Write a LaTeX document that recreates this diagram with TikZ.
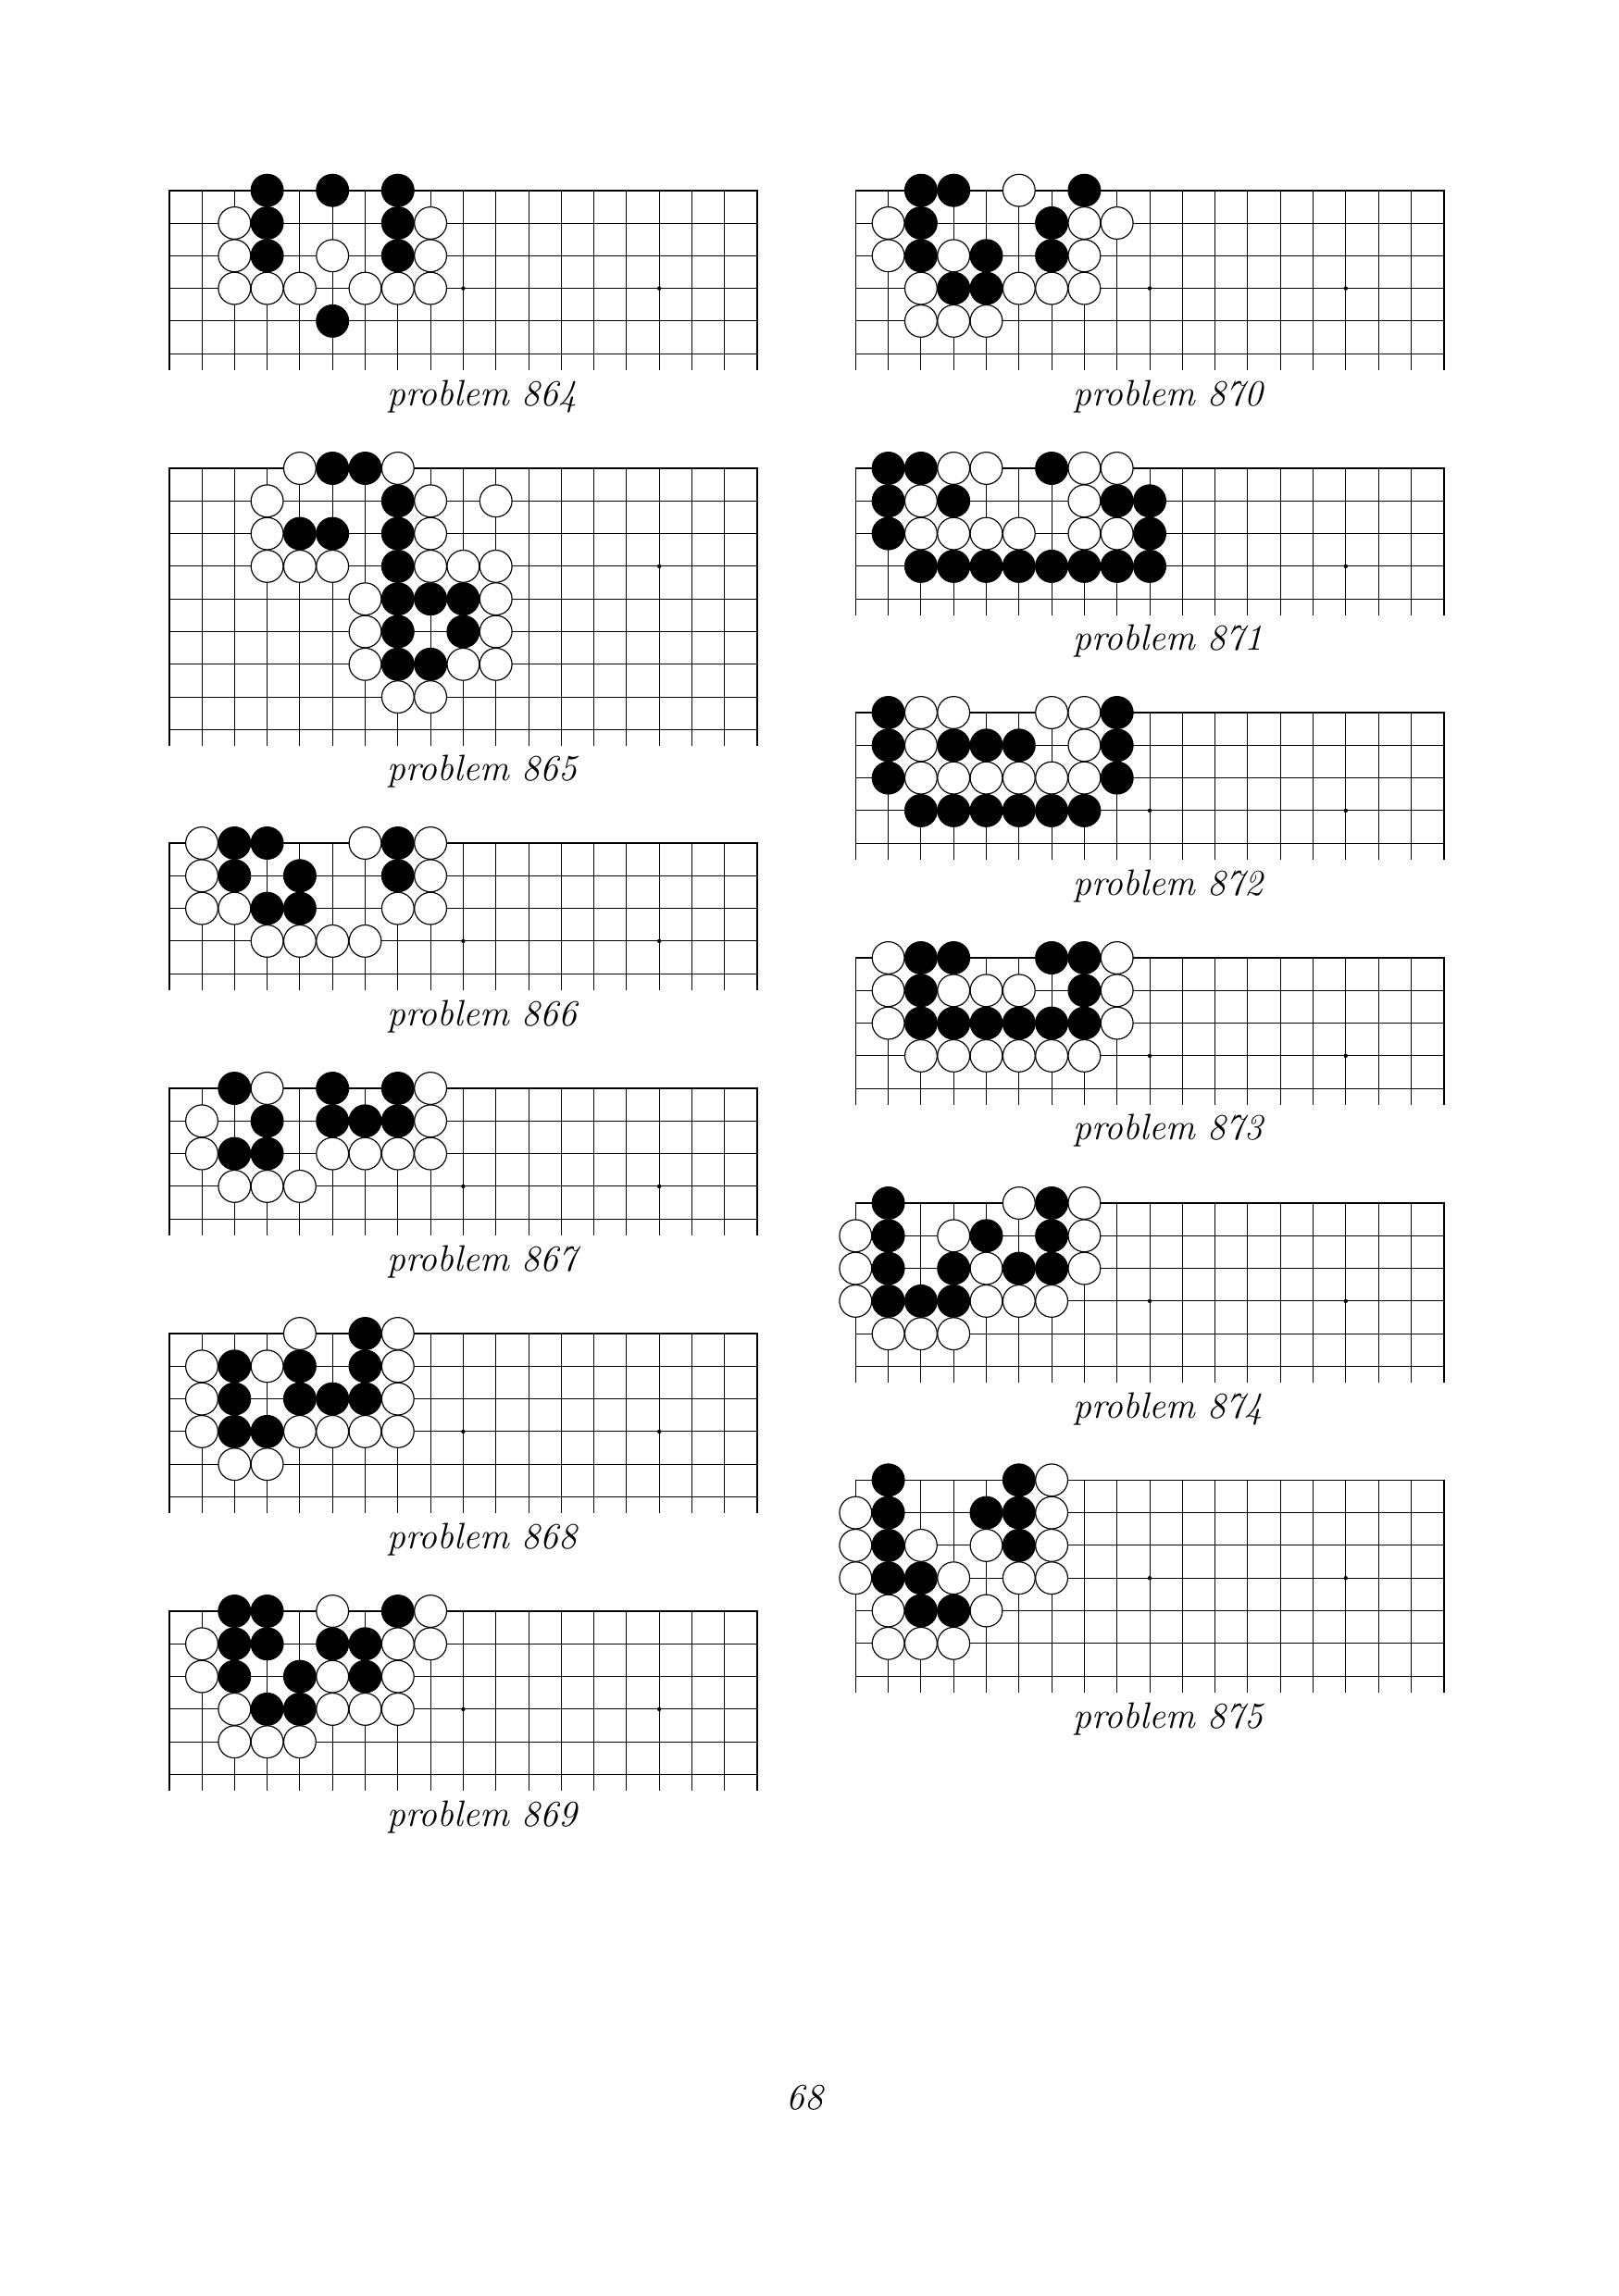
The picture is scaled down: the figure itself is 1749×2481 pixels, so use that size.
\documentclass[tikz,border=0pt]{standalone}
\usepackage{fontspec}
\usepackage{tikz}

\newcommand{\gosp}{35.3}
\newcommand{\goboard}[5]{%
  \begin{scope}[shift={(#1,#2)}]
    \pgfmathtruncatemacro{\rlast}{#3-1}
    \pgfmathsetmacro{\ylow}{(#3-0.5)*\gosp}
    \foreach \r in {1,...,\rlast} \draw[gridline] (0,\r*\gosp) -- (18*\gosp,\r*\gosp);
    \foreach \c in {1,...,17} \draw[gridline] (\c*\gosp,0) -- (\c*\gosp,\ylow);
    \draw[edgeline] (0,\ylow) -- (0,0) -- (18*\gosp,0) -- (18*\gosp,\ylow);
    \foreach \c in {3,9,15} \fill (\c*\gosp,3*\gosp) circle (0.75pt);
    \foreach \c/\r in {#4} \filldraw[bstone] (\c*\gosp,\r*\gosp) circle (5.92pt);
    \foreach \c/\r in {#5} \filldraw[wstone] (\c*\gosp,\r*\gosp) circle (5.92pt);
  \end{scope}}

\begin{document}
\begin{tikzpicture}[
  x=0.3404pt, y=-0.3404pt,
  gridline/.style={line width=0.3pt},
  edgeline/.style={line width=0.55pt},
  bstone/.style={fill=black, draw=black, line width=0.4pt},
  wstone/.style={fill=white, draw=black, line width=0.4pt},
  caption/.style={font=\fontsize{13.5}{16}\selectfont\itshape, inner sep=0pt}
]
\useasboundingbox (0,0) rectangle (1749,2481);

\goboard{182.7}{205.7}{6}
  {3/0,5/0,7/0, 3/1,7/1, 3/2,7/2, 5/4}
  {2/1,8/1, 2/2,5/2,8/2, 2/3,3/3,4/3,6/3,7/3,8/3}
\goboard{182.7}{506}{9}
  {5/0,6/0, 7/1, 4/2,5/2,7/2, 7/3, 7/4,8/4,9/4, 7/5,9/5, 7/6,8/6}
  {4/0,7/0, 3/1,8/1,10/1, 3/2,8/2, 3/3,4/3,5/3,8/3,9/3,10/3, 6/4,10/4, 6/5,10/5, 6/6,9/6,10/6, 7/7,8/7}
\goboard{182.7}{911}{5}
  {2/0,3/0,7/0, 2/1,4/1,7/1, 3/2,4/2}
  {1/0,6/0,8/0, 1/1,8/1, 1/2,2/2,7/2,8/2, 3/3,4/3,5/3,6/3}
\goboard{182.7}{1176}{5}
  {2/0,5/0,7/0, 3/1,5/1,6/1,7/1, 2/2,3/2}
  {3/0,8/0, 1/1,8/1, 1/2,5/2,6/2,7/2,8/2, 2/3,3/3,4/3}
\goboard{182.7}{1441}{6}
  {6/0, 2/1,4/1,6/1, 2/2,4/2,5/2,6/2, 2/3,3/3}
  {4/0,7/0, 1/1,3/1,7/1, 1/2,7/2, 1/3,4/3,5/3,6/3,7/3, 2/4,3/4}
\goboard{182.7}{1741}{6}
  {2/0,3/0,7/0, 2/1,3/1,5/1,6/1, 2/2,4/2,6/2, 3/3,4/3}
  {5/0,8/0, 1/1,7/1,8/1, 1/2,5/2,7/2, 2/3,5/3,6/3,7/3, 2/4,3/4,4/4}

\goboard{924.3}{205.7}{6}
  {2/0,3/0,7/0, 2/1,6/1, 2/2,4/2,6/2, 3/3,4/3}
  {5/0, 1/1,7/1,8/1, 1/2,3/2,7/2, 2/3,5/3,6/3,7/3, 2/4,3/4,4/4}
\goboard{924.3}{506}{5}
  {1/0,2/0,6/0, 1/1,3/1,8/1,9/1, 1/2,9/2, 2/3,3/3,4/3,5/3,6/3,7/3,8/3,9/3}
  {3/0,4/0,7/0,8/0, 2/1,7/1, 2/2,3/2,4/2,5/2,7/2,8/2}
\goboard{924.3}{770}{5}
  {1/0,8/0, 1/1,3/1,4/1,5/1,8/1, 1/2,8/2, 2/3,3/3,4/3,5/3,6/3,7/3}
  {2/0,3/0,6/0,7/0, 2/1,7/1, 2/2,3/2,4/2,5/2,6/2,7/2}
\goboard{924.3}{1035}{5}
  {2/0,3/0,6/0,7/0, 2/1,7/1, 2/2,3/2,4/2,5/2,6/2,7/2}
  {1/0,8/0, 1/1,3/1,4/1,5/1,8/1, 1/2,8/2, 2/3,3/3,4/3,5/3,6/3,7/3}
\goboard{924.3}{1300}{6}
  {1/0,6/0, 1/1,4/1,6/1, 1/2,3/2,5/2,6/2, 1/3,2/3,3/3}
  {5/0,7/0, 0/1,3/1,7/1, 0/2,4/2,7/2, 0/3,4/3,5/3,6/3, 1/4,2/4,3/4}
\goboard{924.3}{1599.3}{7}
  {1/0,5/0, 1/1,4/1,5/1, 1/2,5/2, 1/3,2/3, 2/4,3/4}
  {6/0, 0/1,6/1, 0/2,2/2,4/2,6/2, 0/3,3/3,5/3,6/3, 1/4,4/4, 1/5,2/5,3/5}

\node[caption] (p864) at (521,429) {problem 864};
\node[caption] (p865) at (521,834) {problem 865};
\node[caption] (p866) at (521,1099) {problem 866};
\node[caption] (p867) at (521,1364) {problem 867};
\node[caption] (p868) at (521,1664) {problem 868};
\node[caption] (p869) at (521,1964) {problem 869};
\node[caption] (p870) at (1262,429) {problem 870};
\node[caption] (p871) at (1262,693) {problem 871};
\node[caption] (p872) at (1262,958) {problem 872};
\node[caption] (p873) at (1262,1222) {problem 873};
\node[caption] (p874) at (1262,1523) {problem 874};
\node[caption] (p875) at (1262,1858) {problem 875};
\node[caption] (pagenum) at (869,2267) {68};
\end{tikzpicture}
\end{document}
